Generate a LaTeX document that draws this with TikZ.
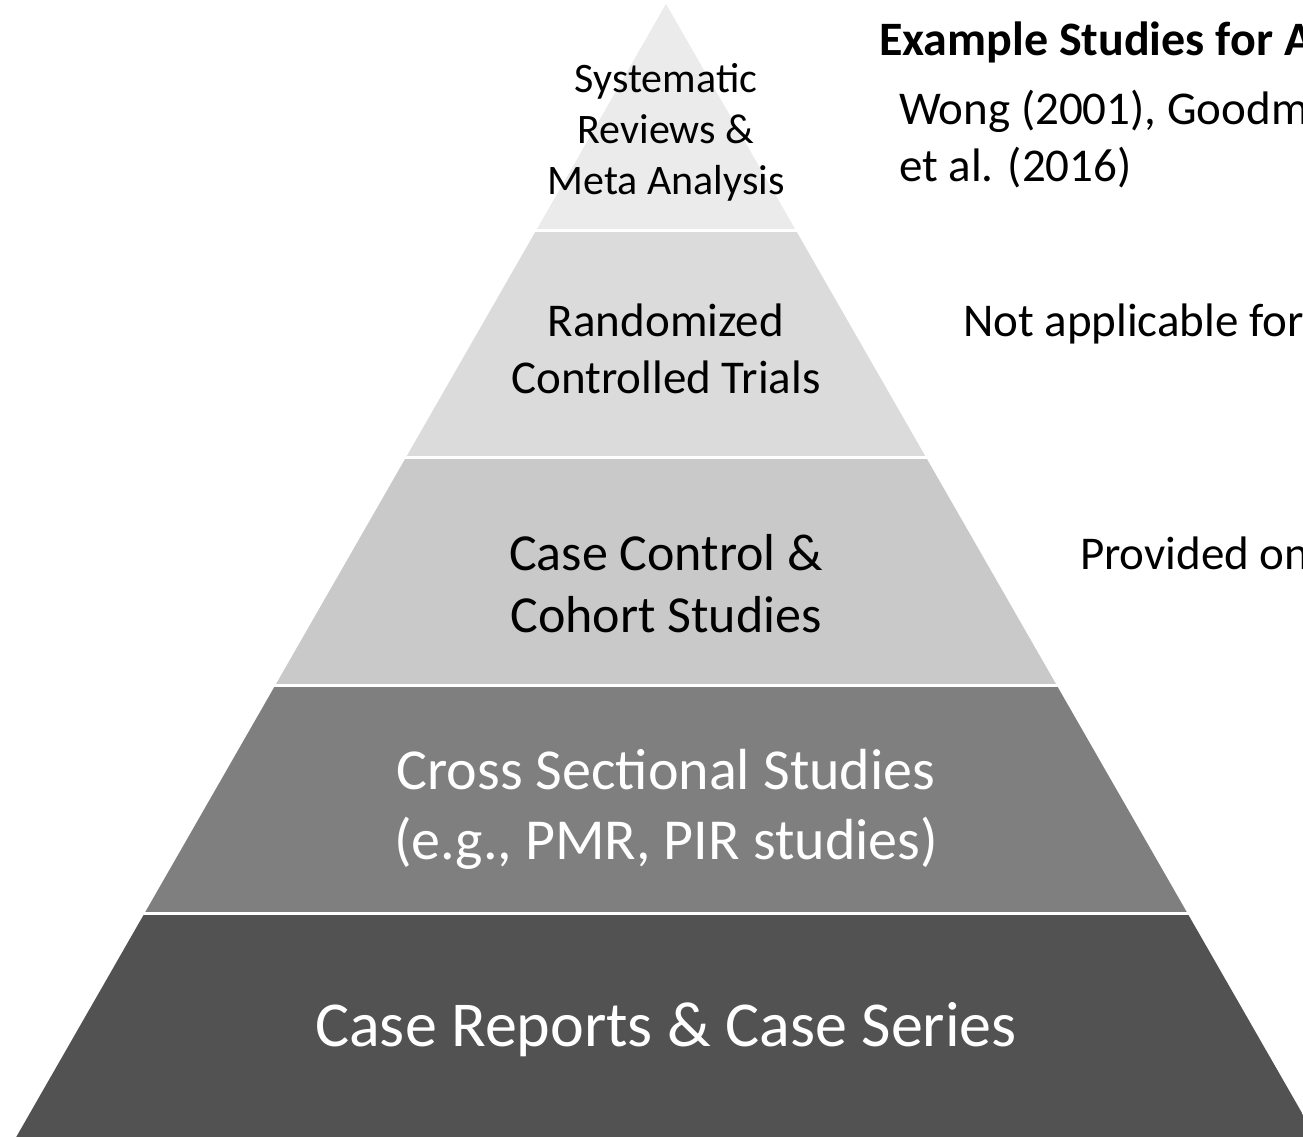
\documentclass[tikz,border=0pt]{standalone}
\usepackage{fontspec}
\setmainfont{Carlito}
\definecolor{bandA}{HTML}{EBEBEB}
\definecolor{bandB}{HTML}{DBDBDB}
\definecolor{bandC}{HTML}{C9C9C9}
\definecolor{bandD}{HTML}{7F7F7F}
\definecolor{bandE}{HTML}{525252}
\begin{document}
\begin{tikzpicture}[x=1pt,y=-1pt,
  lbl/.style={inner sep=0pt, outer sep=0pt, align=center, anchor=base},
  note/.style={inner sep=0pt, outer sep=0pt, align=left, anchor=base west, font=\fontsize{47}{57}\selectfont}]
\clip (0,0) rectangle (1303,1136);
\fill[white] (0,0) rectangle (1303,1136);
\begin{scope}
  \clip (666,4) -- (14.5,1140) -- (1317.5,1140) -- cycle;
  \fill[bandA] (0,0) rectangle (1303,229);
  \fill[bandB] (0,232) rectangle (1303,456);
  \fill[bandC] (0,459) rectangle (1303,684);
  \fill[bandD] (0,687) rectangle (1303,911.5);
  \fill[bandE] (0,914.5) rectangle (1303,1140);
\end{scope}
\node[lbl, font=\fontsize{42}{51}\selectfont] (sr) at (666,194) {Systematic\\Reviews \&\\Meta Analysis};
\node[lbl, font=\fontsize{47}{57}\selectfont] (rct) at (666,393) {Randomized\\Controlled Trials};
\node[lbl, font=\fontsize{52}{62}\selectfont] (cc) at (666,632) {Case Control \&\\Cohort Studies};
\node[lbl, text=white, font=\fontsize{58}{70}\selectfont] (cs) at (666,859) {Cross Sectional Studies\\(e.g., PMR, PIR studies)};
\node[lbl, text=white, font=\fontsize{64}{77}\selectfont] (cr) at (666,1046) {Case Reports \& Case Series};
\node[note, font=\bfseries\fontsize{48}{58}\selectfont] (ex) at (879,55) {Example Studies for A};
\node[note] (wong) at (899,181) {Wong (2001), Goodm\\et al. (2016)};
\node[note] (na) at (963,336) {Not applicable for};
\node[note] (po) at (1080,569) {Provided on};
\end{tikzpicture}
\end{document}
